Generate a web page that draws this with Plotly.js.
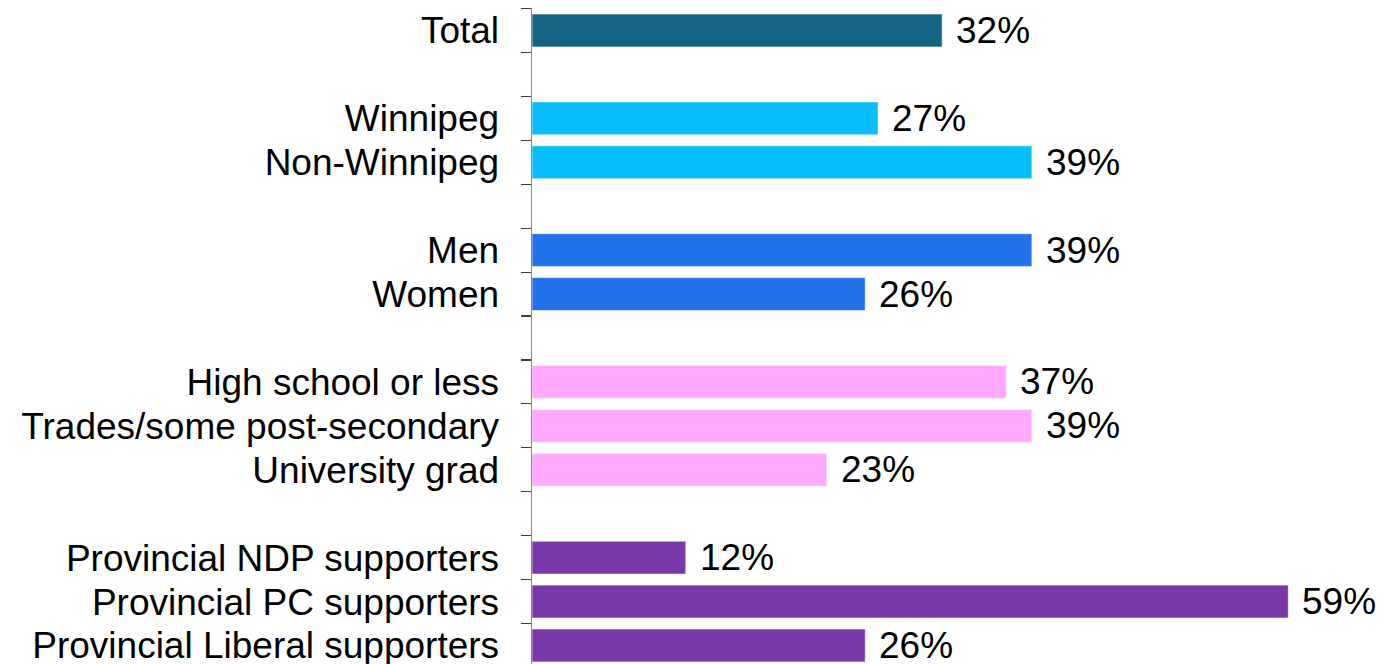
<!DOCTYPE html>
<html>
<head>
<meta charset="utf-8">
<script src="https://cdn.plot.ly/plotly-3.0.1.min.js"></script>
<style>
html,body{margin:0;padding:0;overflow:hidden;background:#fff;}
#chart{width:1384px;height:668px;}
</style>
</head>
<body>
<div id="chart"></div>
<script>
// Categories (top to bottom); blank spacer rows use zero-width-space names
const categories = [
  "Total", "\u200b",
  "Winnipeg", "Non-Winnipeg", "\u200b\u200b",
  "Men", "Women", "\u200b\u200b\u200b",
  "High school or less", "Trades/some post-secondary", "University grad", "\u200b\u200b\u200b\u200b",
  "Provincial NDP supporters", "Provincial PC supporters", "Provincial Liberal supporters"
];
const values = [32, null, 27, 39, null, 39, 26, null, 37, 39, 23, null, 12, 59, 26];
const groups = ["total", null, "region", "region", null, "gender", "gender", null, "edu", "edu", "edu", null, "party", "party", "party"];
const groupColors = {total: "#146583", region: "#08BDFC", gender: "#2372EA", edu: "#FFA8FF", party: "#7A37A7"};

const colors = groups.map(g => g ? groupColors[g] : "#ffffff");

const trace = {
  type: "bar",
  orientation: "h",
  y: categories,
  x: values,
  marker: {color: colors, line: {color: "rgba(255,255,255,0.6)", width: 1}},
  hoverinfo: "skip",
  cliponaxis: false
};

const FONT = "Liberation Sans, Arial, sans-serif";
const annotations = [];
categories.forEach((c, i) => {
  if (values[i] !== null) {
    annotations.push({
      x: values[i], y: c, xref: "x", yref: "y",
      text: values[i] + "%", showarrow: false,
      xanchor: "left", yanchor: "middle", xshift: 12,
      font: {family: FONT, size: 37, color: "#000"}
    });
  }
});

const layout = {
  width: 1384, height: 668,
  margin: {l: 532, r: 6, t: 8, b: 0, pad: 0},
  paper_bgcolor: "#fff", plot_bgcolor: "#fff",
  showlegend: false,
  bargap: 0.25,
  font: {family: FONT, size: 37, color: "#000"},
  xaxis: {range: [0, 66], visible: false, fixedrange: true},
  yaxis: {
    type: "category",
    categoryorder: "array", categoryarray: categories,
    autorange: "reversed",
    tickmode: "linear", tick0: 0, dtick: 1,
    showline: true, linecolor: "#868686", linewidth: 1.5,
    ticks: "outside", ticklen: 10, tickcolor: "#404040", tickwidth: 1.2,
    tickson: "boundaries",
    showgrid: false, zeroline: false,
    ticklabelstandoff: 24,
    tickfont: {family: FONT, size: 37, color: "#000"},
    fixedrange: true
  },
  annotations: annotations
};

Plotly.newPlot("chart", [trace], layout, {displayModeBar: false, staticPlot: true});
</script>
</body>
</html>
